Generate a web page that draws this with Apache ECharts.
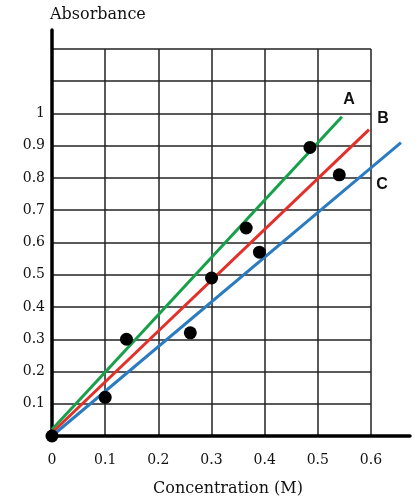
<!DOCTYPE html>
<html>
<head>
<meta charset="UTF-8">
<title>Absorbance vs Concentration</title>
<script src="https://cdn.jsdelivr.net/npm/echarts@6/dist/echarts.min.js"></script>
<style>
  html, body { margin: 0; padding: 0; background: #fff; }
</style>
</head>
<body>
<div id="main" style="width: 419px; height: 499px;"></div>
<script type="text/javascript">
// measured points (concentration, absorbance)
var pointsX = [0, 0.1, 0.14, 0.26, 0.3, 0.365, 0.39, 0.485, 0.54];
var pointsY = [0, 0.12, 0.3, 0.32, 0.49, 0.645, 0.57, 0.895, 0.81];

// the three fitted lines: start and end
var lineNames = ['A', 'B', 'C'];
var lineX = [[0, 0.545], [0, 0.596], [0, 0.656]];
var lineY = [[0.02, 0.99], [0.01, 0.95], [0, 0.91]];
var lineColors = ['#17a04a', '#e2302a', '#2a7bc0'];
var labelOffsets = [[7, -17], [14, -11], [-19, 42]];

var xTicks = [0, 0.1, 0.2, 0.3, 0.4, 0.5, 0.6];
var yTicks = [0.1, 0.2, 0.3, 0.4, 0.5, 0.6, 0.7, 0.8, 0.9, 1];

var serif = 'DejaVu Serif';
var myChart = echarts.init(document.getElementById('main'));

function pairs(xs, ys) {
	var out = [];
	for (var i = 0; i < xs.length; i++) out.push([xs[i], ys[i]]);
	return out;
}

// series live on grid 1 (the long axes), the scale matches grid 0
var series = [];
for (var i = 0; i < lineNames.length; i++) {
	series.push({
		name: lineNames[i],
		type: 'line',
		xAxisIndex: 1,
		yAxisIndex: 1,
		clip: false,
		symbol: 'none',
		silent: true,
		z: 3,
		lineStyle: { color: lineColors[i], width: 3 },
		data: pairs(lineX[i], lineY[i]),
		endLabel: {
			show: true,
			formatter: lineNames[i],
			distance: 0,
			align: 'center',
			verticalAlign: 'middle',
			offset: labelOffsets[i],
			color: '#111',
			fontFamily: 'Liberation Sans',
			fontWeight: 'bold',
			fontSize: 16
		}
	});
}
series.push({
	type: 'scatter',
	xAxisIndex: 1,
	yAxisIndex: 1,
	clip: false,
	symbolSize: 13,
	z: 4,
	itemStyle: { color: '#000', opacity: 1 },
	data: pairs(pointsX, pointsY)
});

var option = {
	animation: false,
	title: {
		text: 'Absorbance',
		left: 45,
		top: 2,
		textStyle: { fontFamily: serif, fontWeight: 'normal', fontSize: 16, color: '#111' }
	},
	grid: [
		// gridline area 0..0.6 x 0..1.2
		{ left: 52, top: 49, width: 319, height: 387, outerBoundsMode: 'none' },
		// long axis lines
		{ left: 52, top: 30, width: 358, height: 406, outerBoundsMode: 'none' }
	],
	xAxis: [
		{
			gridIndex: 0, type: 'value', min: 0, max: 0.6, interval: 0.1,
			axisLine: { show: false }, axisTick: { show: false },
			splitLine: { show: true, lineStyle: { color: '#222', width: 1.5 } },
			axisLabel: {
				margin: 17, fontFamily: serif, fontSize: 14, color: '#111',
				formatter: function (v) {
					for (var k = 0; k < xTicks.length; k++) {
						if (Math.abs(xTicks[k] - v) < 1e-6) return String(xTicks[k]);
					}
					return '';
				}
			}
		},
		{
			gridIndex: 1, type: 'value', min: 0, max: 0.673,
			axisLine: { show: true, lineStyle: { color: '#000', width: 3.5 } },
			axisTick: { show: false }, axisLabel: { show: false }, splitLine: { show: false },
			name: 'Concentration (M)', nameLocation: 'middle', nameGap: 45,
			nameTextStyle: { fontFamily: serif, fontSize: 16, color: '#111', padding: [0, 6, 0, 0] }
		}
	],
	yAxis: [
		{
			gridIndex: 0, type: 'value', min: 0, max: 1.2, interval: 0.1,
			axisLine: { show: false }, axisTick: { show: false },
			splitLine: { show: true, lineStyle: { color: '#222', width: 1.5 } },
			axisLabel: {
				margin: 7, fontFamily: serif, fontSize: 14, color: '#111',
				formatter: function (v) {
					for (var k = 0; k < yTicks.length; k++) {
						if (Math.abs(yTicks[k] - v) < 1e-6) return String(yTicks[k]);
					}
					return '';
				}
			}
		},
		{
			gridIndex: 1, type: 'value', min: 0, max: 1.259,
			axisLine: { show: true, lineStyle: { color: '#000', width: 3.5 } },
			axisTick: { show: false }, axisLabel: { show: false }, splitLine: { show: false }
		}
	],
	series: series
};

myChart.setOption(option);
</script>
</body>
</html>
